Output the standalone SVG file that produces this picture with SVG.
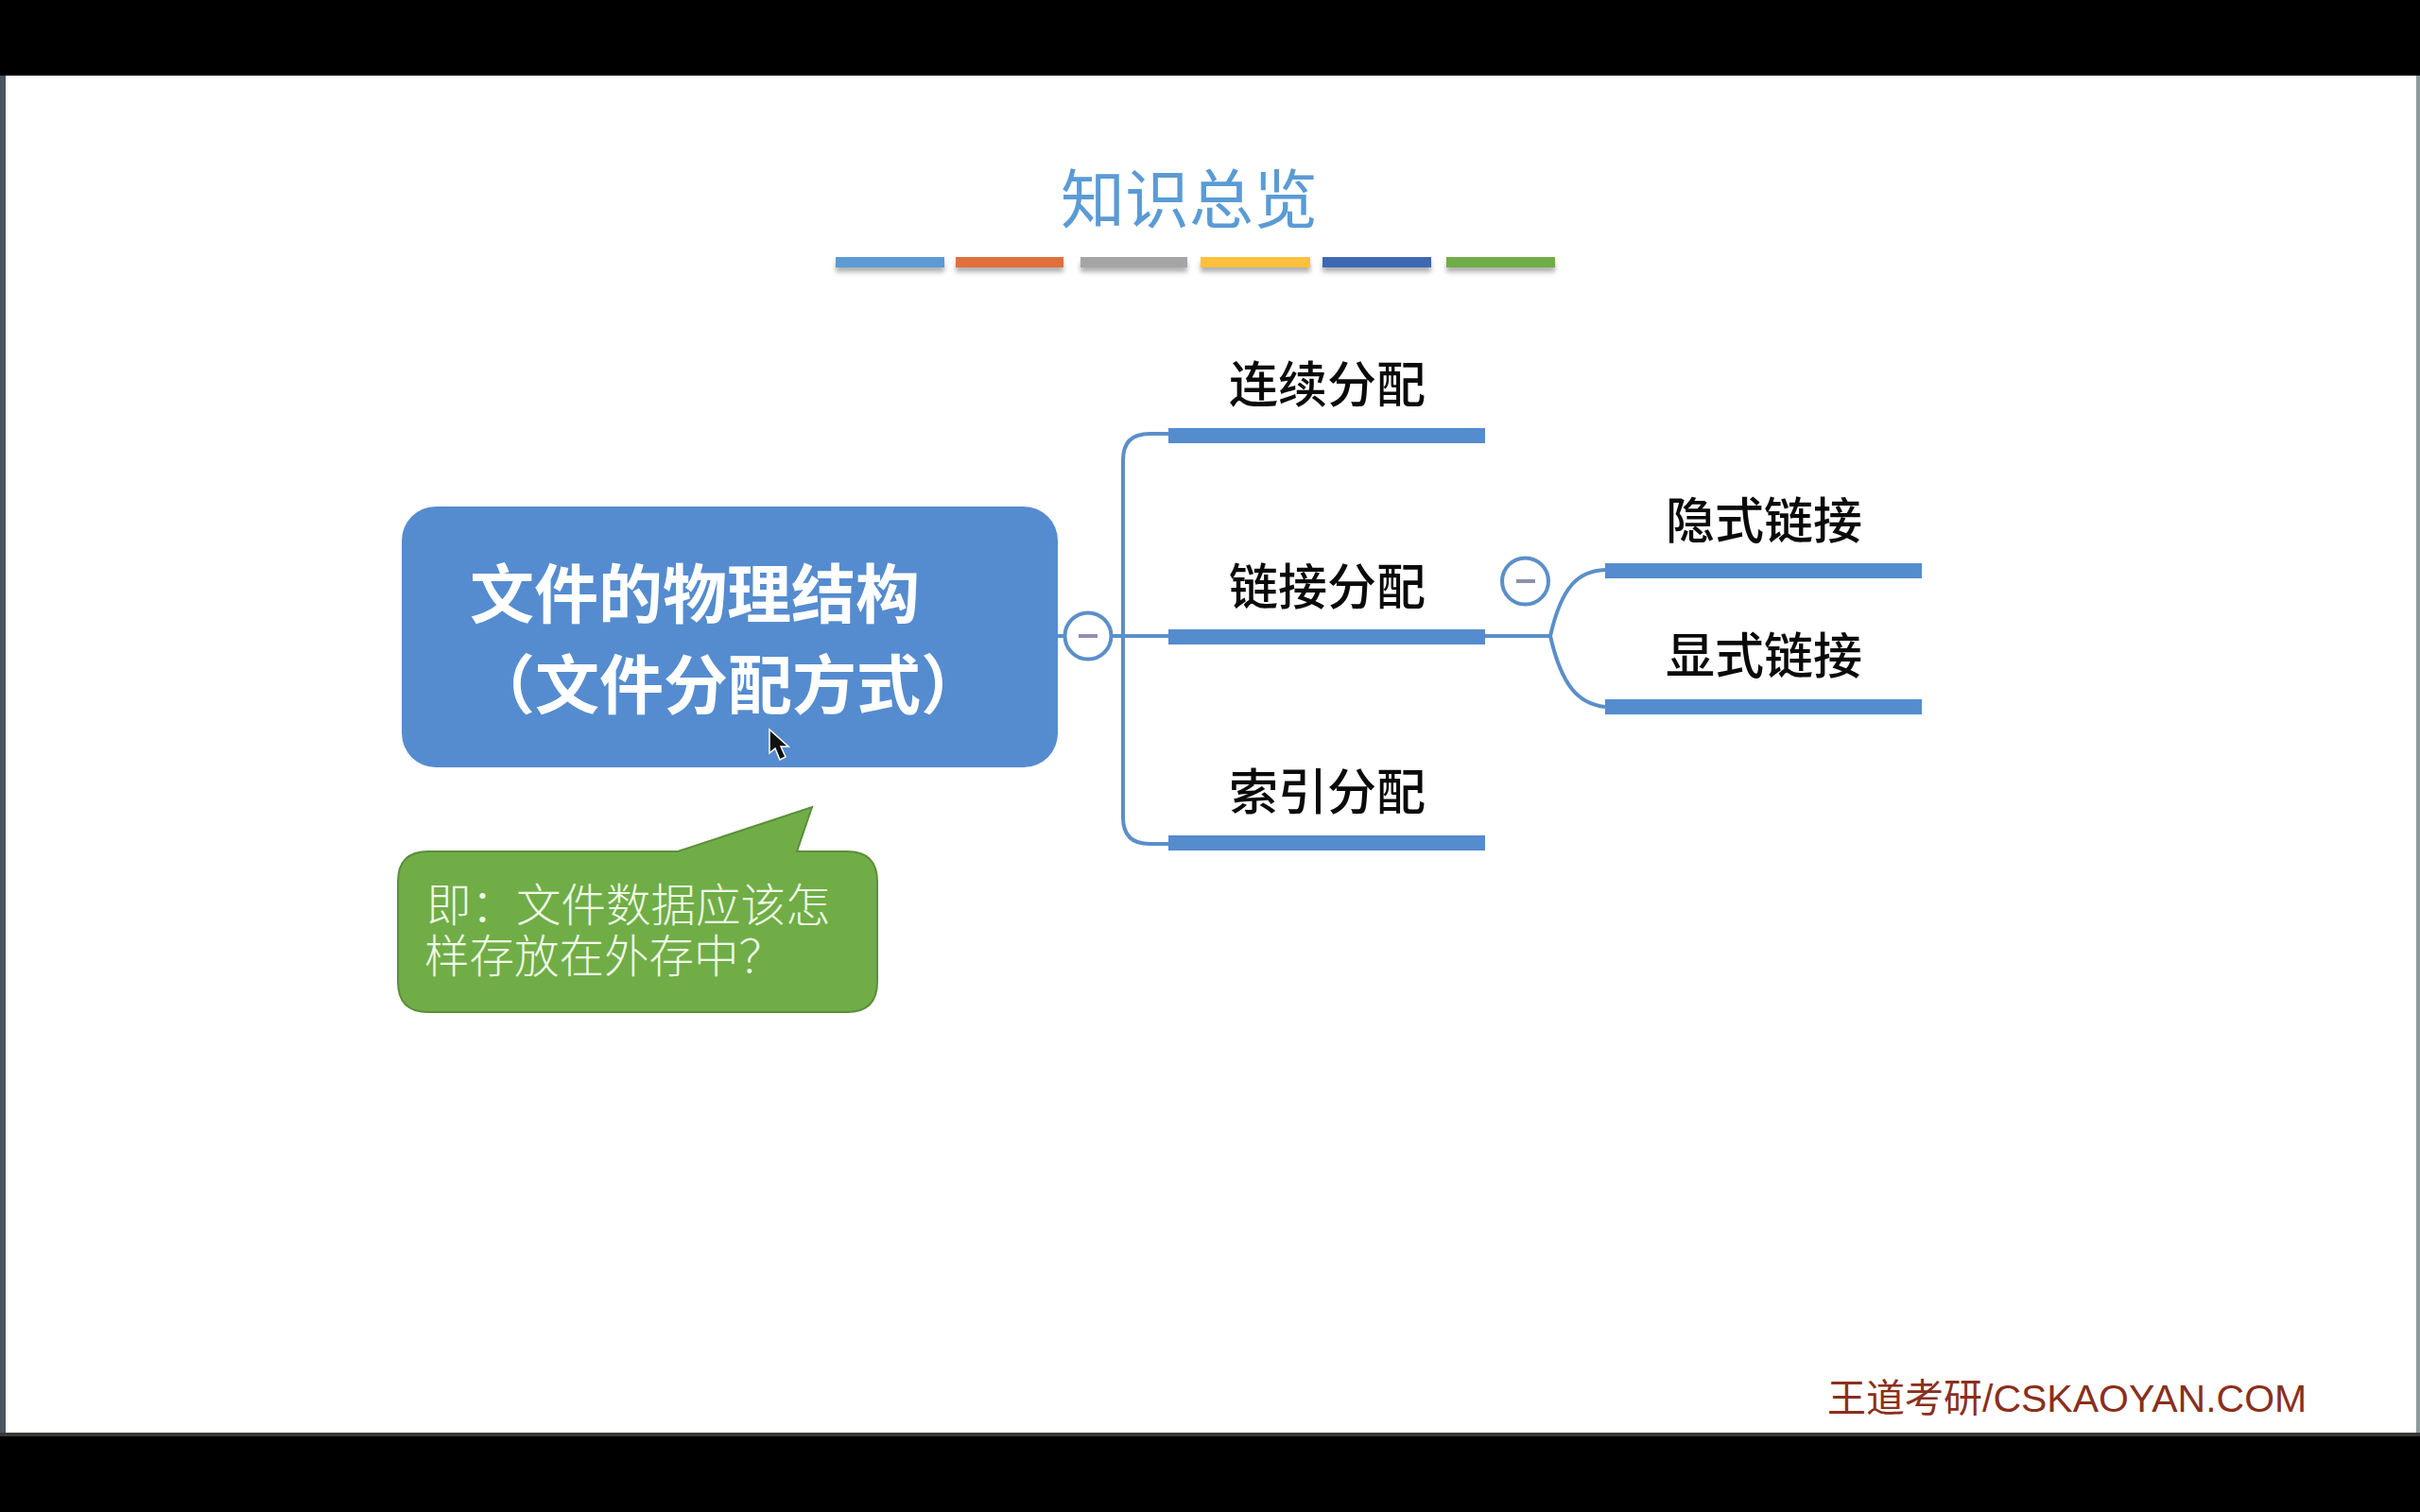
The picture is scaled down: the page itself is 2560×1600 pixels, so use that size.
<svg xmlns="http://www.w3.org/2000/svg" width="2560" height="1600" viewBox="0 0 2560 1600">
<style>
text{font-family:"Noto Sans CJK SC","Liberation Sans",sans-serif}
.lbl{font-size:52px;font-weight:500;fill:#0a0a0a;text-anchor:middle}
.bar{fill:#558ccd}
.conn{fill:none;stroke:#5b8fc9;stroke-width:4}
.toggle circle{fill:#fff;stroke:#5b8fc9;stroke-width:4}
.toggle line{stroke:#8d90b0;stroke-width:4}
.root{font-size:68px;font-weight:700;fill:#fff}
.note{font-size:47.5px;font-weight:300;fill:#effbe6}
</style>
<defs>
<filter id="sh" x="-10%" y="-50%" width="120%" height="260%"><feDropShadow dx="0" dy="5" stdDeviation="2.5" flood-color="#000" flood-opacity="0.3"/></filter>
</defs>
<rect width="2560" height="1600" fill="#000"/>
<rect x="0" y="80" width="6" height="1436" fill="#4b5560"/>
<rect x="2556" y="80" width="4" height="1436" fill="#8f9a9c"/>
<rect x="0" y="1516" width="2560" height="4" fill="#3a3833"/>
<rect x="6" y="80" width="2550" height="1436" fill="#fff"/>

<g id="title">
<text x="1258" y="236" font-size="68" fill="#5b9bd5" text-anchor="middle">知识总览</text>
<g filter="url(#sh)">
<rect x="884" y="272" width="115" height="11" fill="#5b9bd5"/>
<rect x="1011" y="272" width="114" height="11" fill="#e0703a"/>
<rect x="1143" y="272" width="113" height="11" fill="#a5a5a5"/>
<rect x="1270" y="272" width="116" height="11" fill="#ffc13c"/>
<rect x="1399" y="272" width="115" height="11" fill="#3c69b4"/>
<rect x="1530" y="272" width="115" height="11" fill="#70ad47"/>
</g>
</g>

<g id="connectors">
<path class="conn" d="M1119 673H1236"/>
<path class="conn" d="M1236 459H1216Q1188 459 1188 487V865Q1188 893 1216 893H1236"/>
<path class="conn" d="M1571 673H1640"/>
<path class="conn" d="M1640 673C1652 620 1670 604 1698 603"/>
<path class="conn" d="M1640 673C1652 726 1670 745 1698 748"/>
</g>

<g id="root">
<rect x="425" y="536" width="694" height="276" rx="36" fill="#558ccf"/>
<text class="root" x="497" y="654">文件的物理结构</text>
<text class="root" x="498" y="750">（文件分配方式）</text>
</g>
<g id="toggle-root" class="toggle">
<circle cx="1151" cy="673" r="24.5"/><line x1="1141" y1="673" x2="1161" y2="673"/>
</g>
<g id="node-continuous"><rect class="bar" x="1236" y="453" width="335" height="16"/><text class="lbl" x="1404" y="426">连续分配</text></g>
<g id="node-linked"><rect class="bar" x="1236" y="666" width="335" height="16"/><text class="lbl" x="1404" y="640">链接分配</text></g>
<g id="node-indexed"><rect class="bar" x="1236" y="884" width="335" height="16"/><text class="lbl" x="1404" y="857">索引分配</text></g>
<g id="toggle-linked" class="toggle">
<circle cx="1613.5" cy="615" r="24.5"/><line x1="1604" y1="615" x2="1624" y2="615"/>
</g>
<g id="node-implicit"><rect class="bar" x="1698" y="596" width="335" height="16"/><text class="lbl" x="1866" y="570">隐式链接</text></g>
<g id="node-explicit"><rect class="bar" x="1698" y="740" width="335" height="16"/><text class="lbl" x="1866" y="713">显式链接</text></g>

<g id="callout">
<path d="M453 901H717L859 854L843 901H896Q928 901 928 933V1039Q928 1071 896 1071H453Q421 1071 421 1039V933Q421 901 453 901Z" fill="#70ad47" stroke="#5a8f39" stroke-width="2"/>
<text class="note" x="451" y="975">即：文件数据应该怎</text>
<text class="note" x="449" y="1029">样存放在外存中？</text>
</g>

<g id="cursor">
<path d="M814 772L814 797L820 792L825 804L831 801L826 790L834 790Z" fill="#111" stroke="#fff" stroke-width="1.5"/>
</g>

<g id="footer">
<text x="1933" y="1494" font-size="41" fill="#8a2f1c" style="font-family:'Liberation Sans','Noto Sans CJK SC',sans-serif">王道考研/CSKAOYAN.COM</text>
</g>
</svg>
